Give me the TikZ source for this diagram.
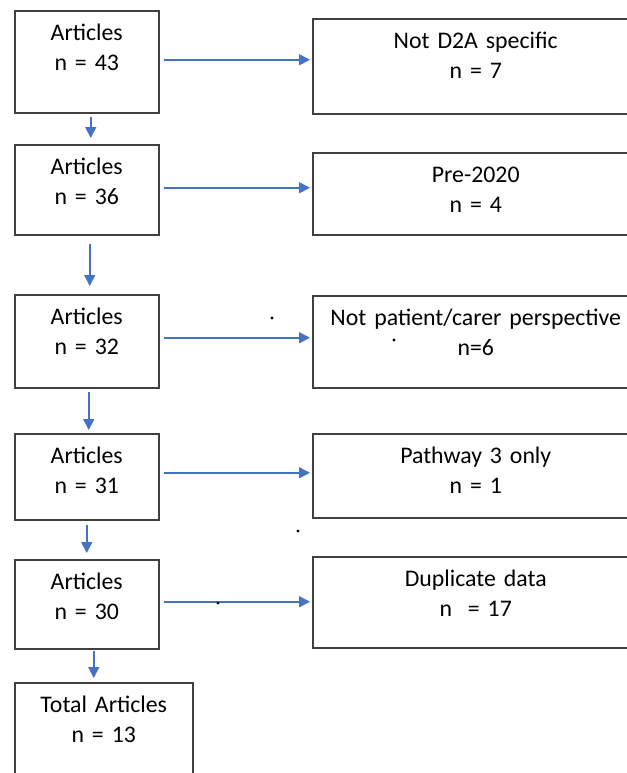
\documentclass[tikz,border=0pt]{standalone}
\usepackage{fontspec}
\setmainfont{Carlito}
\usepackage{tikz}
\usetikzlibrary{positioning,arrows.meta,calc}
\definecolor{arrowblue}{HTML}{4472C4}
\definecolor{edgegray}{HTML}{404040}
\newcommand{\boxfont}{\fontsize{11.9}{15}\selectfont\spaceskip 2.1pt\relax}

\begin{document}
\begin{tikzpicture}[
    x=0.5pt, y=-0.5pt,
    box/.style={draw=edgegray, line width=0.75pt, anchor=north west, inner xsep=0pt, inner ysep=0pt, align=center, text height=15pt, font=\boxfont},
    arr/.style={-{Triangle[length=5.5pt,width=5.5pt]}, line width=0.8pt, arrowblue}
  ]
    \clip (0,0) rectangle (627,773);

    \node[box, text width=72pt, text depth=36pt] (art43) at (14,10) {Articles\\n = 43};
    \node[box, text width=72pt, text depth=30pt] (art36) at (14,144) {Articles\\n = 36};
    \node[box, text width=72pt, text depth=31.5pt] (art32) at (14,294) {Articles\\n = 32};
    \node[box, text width=72pt, text depth=28pt] (art31) at (14,433) {Articles\\n = 31};
    \node[box, text width=72pt, text depth=29.5pt] (art30) at (14,559) {Articles\\n = 30};
    \node[box, text width=89pt, text depth=50pt] (total) at (14,682) {Total Articles\\n = 13};

    \node[box, text width=163pt, text depth=32.5pt] (excl7) at (312,18) {Not D2A specific\\n = 7};
    \node[box, text width=163pt, text depth=26pt] (excl4) at (312,152) {Pre-2020\\n = 4};
    \node[box, text width=163pt, text depth=31pt] (excl6) at (312,295) {Not patient/carer perspective\\n=6};
    \node[box, text width=163pt, text depth=27pt] (excl1) at (312,433) {Pathway 3 only\\n = 1};
    \node[box, text width=163pt, text depth=30.5pt] (excl17) at (312,556) {Duplicate data\\n\ \ = 17};

    \draw[arr, shorten <=1.5pt, shorten >=3pt] ([xshift=2pt]art43.south) -- ([xshift=2pt]art43.south |- art36.north);
    \draw[arr, shorten <=4pt, shorten >=4pt] ([xshift=1.5pt]art36.south) -- ([xshift=1.5pt]art36.south |- art32.north);
    \draw[arr, shorten <=1.5pt, shorten >=1.5pt] ([xshift=1pt]art32.south) -- ([xshift=1pt]art32.south |- art31.north);
    \draw[arr, shorten <=2pt, shorten >=3pt] (art31.south) -- (art31.south |- art30.north);
    \draw[arr, shorten <=0.5pt, shorten >=2pt] ([xshift=3.5pt]art30.south) -- ([xshift=3.5pt]art30.south |- total.north);

    \draw[arr, shorten <=2pt, shorten >=1pt] ([yshift=1pt]art43.east) -- ([yshift=1pt]art43.east -| excl7.west);
    \draw[arr, shorten <=2pt, shorten >=1pt] ([yshift=1pt]art36.east) -- ([yshift=1pt]art36.east -| excl4.west);
    \draw[arr, shorten <=2pt, shorten >=1pt] ([yshift=1.75pt]art32.east) -- ([yshift=1.75pt]art32.east -| excl6.west);
    \draw[arr, shorten <=2pt, shorten >=1pt] ([yshift=2pt]art31.east) -- ([yshift=2pt]art31.east -| excl1.west);
    \draw[arr, shorten <=2pt, shorten >=1pt] ([yshift=1.25pt]art30.east) -- ([yshift=1.25pt]art30.east -| excl17.west);

    \fill (272,318) circle (0.8pt);
    \fill (394,340) circle (0.8pt);
    \fill (298,531) circle (0.8pt);
    \fill (218,603) circle (0.8pt);
\end{tikzpicture}
\end{document}
